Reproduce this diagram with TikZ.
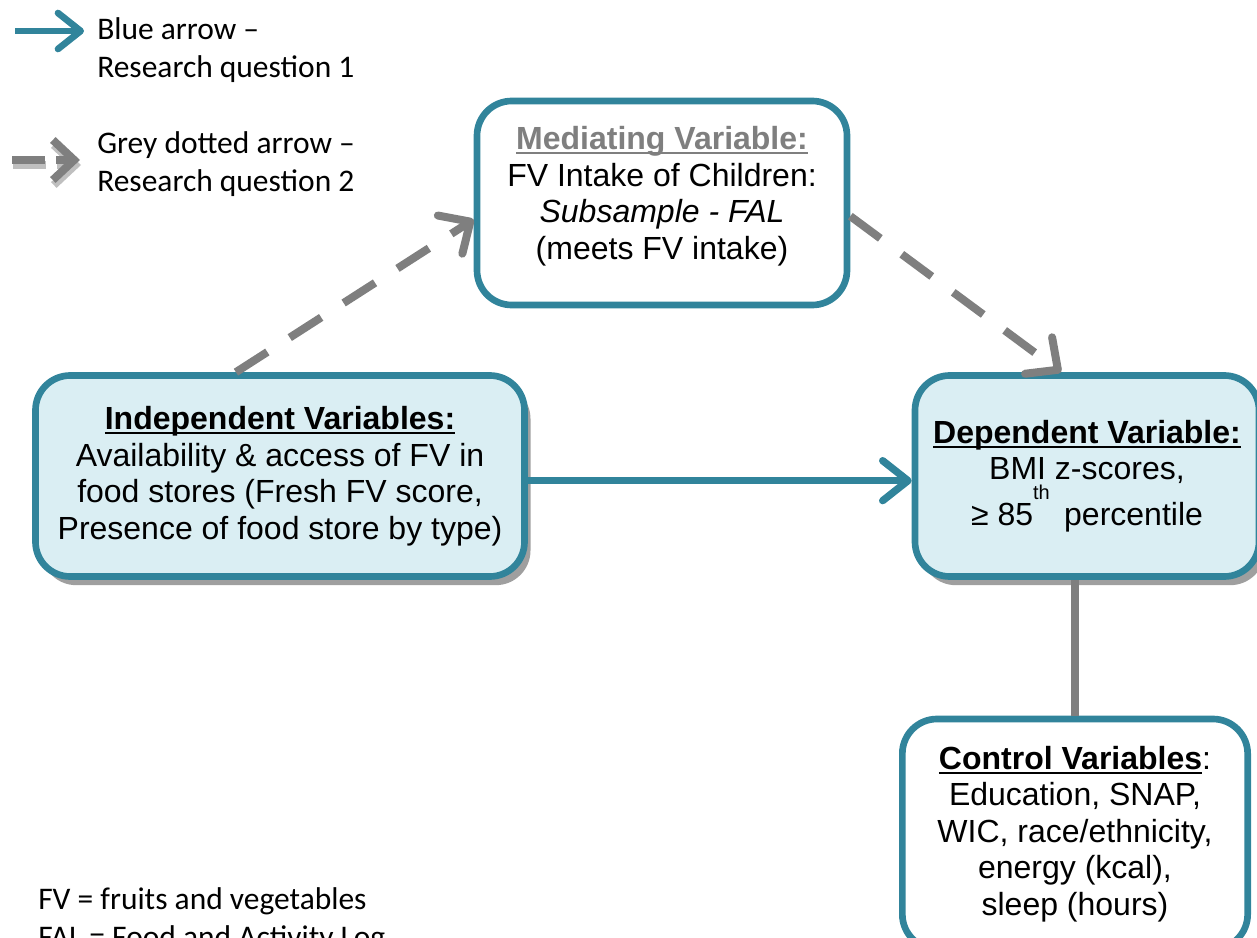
\documentclass[tikz,border=0pt]{standalone}
\usepackage{fontspec}
\setmainfont{Liberation Sans}
\newfontfamily\legendfont{Carlito}
\usetikzlibrary{positioning, arrows.meta, shadows}

\definecolor{tealline}{HTML}{31849B}
\definecolor{boxfill}{HTML}{DAEEF3}
\definecolor{arrowgrey}{HTML}{7F7F7F}

\newcommand{\titleline}[1]{\setbox0\hbox{#1}\rlap{\rule[-3.5pt]{\wd0}{1.7pt}}\box0}

\tikzset{
	varbox/.style={draw=tealline, line width=5pt, rounded corners=26pt, align=center, inner sep=0pt,
		font=\fontsize{24}{27.4}\selectfont},
	shadowed/.style={drop shadow={shadow xshift=4.5pt, shadow yshift=-6.5pt, fill=gray!75, opacity=1}},
	legtext/.style={align=left, inner sep=0pt, anchor=west, font=\legendfont\fontsize{23.6}{28.5}\selectfont},
	bluearrow/.style={draw=tealline, line width=5.5pt, -{Straight Barb[round, length=19pt, width=30pt]}},
	greyarrow/.style={draw=arrowgrey, line width=6pt, dash pattern=on 28pt off 20pt,
		-{Straight Barb[round, length=18pt, width=34pt]}},
	greyline/.style={draw=arrowgrey, line width=6pt}
}

\begin{document}
\begin{tikzpicture}[x=0.75pt, y=-0.75pt]
	\useasboundingbox (0,0) rectangle (1257,938);
	\clip (0,0) rectangle (1257,938);

	\node[varbox, fill=white, minimum width=277.5pt, minimum height=153pt, text depth=15pt] (med) at (662,203)
		{\textcolor{arrowgrey}{\titleline{\textbf{Mediating Variable:}}}\\
		 FV Intake of Children:\\ \textit{Subsample - FAL}\\ (meets FV intake)};
	\node[varbox, shadowed, fill=boxfill, minimum width=366.75pt, minimum height=150.75pt] (indep) at (280,476)
		{\titleline{\textbf{Independent Variables:}}\\ Availability \& access of FV in\\
		 food stores (Fresh FV score,\\ Presence of food store by type)};
	\node[varbox, shadowed, fill=boxfill, minimum width=258pt, minimum height=150.75pt] (dep) at (1087,476)
		{\titleline{\textbf{Dependent Variable:}}\\ BMI z-scores,\\
		 ≥ 85\raisebox{19pt}{\fontsize{15}{15}\selectfont th}\hspace{0.45em}percentile};
	\node[varbox, fill=white, minimum width=259pt, minimum height=172.5pt] (ctrl) at (1075,834)
		{\titleline{\textbf{Control Variables}}:\\ Education, SNAP,\\ WIC, race/ethnicity,\\
		 energy (kcal),\\ sleep (hours)};

	\draw[bluearrow] ([yshift=-3.5pt]indep.east) -- ([yshift=-3.5pt]dep.west);
	\draw[greyarrow] (indep.113) -- (med.185);
	\draw[greyarrow] (med.356) -- (dep.104);
	\draw[greyline] (ctrl.north |- dep.south) -- (ctrl.north);

	\node[legtext] (legq1) at (97,50) {Blue arrow –\\ Research question 1};
	\node[legtext] (legq2) at (97,164) {Grey dotted arrow –\\ Research question 2};
	\node[legtext] (abbrev) at (38,920) {FV = fruits and vegetables\\ FAL = Food and Activity Log};

	\coordinate (bluestart) at (15,31);
	\coordinate (blueend) at (84,31);
	\coordinate (dashstart) at (12,160);
	\coordinate (dashend) at (80,160);
	\draw[bluearrow, line width=5pt, -{Straight Barb[round, length=17pt, width=27pt]}] (bluestart) -- (blueend);
	\draw[greyarrow, draw=gray!50, dash pattern=on 25pt off 8pt, -{Straight Barb[length=16pt, width=30pt]}]
		([shift={(1,5)}]dashstart) -- ([shift={(1,5)}]dashend);
	\draw[greyarrow, dash pattern=on 25pt off 8pt, -{Straight Barb[length=16pt, width=30pt]}] (dashstart) -- (dashend);
\end{tikzpicture}
\end{document}
